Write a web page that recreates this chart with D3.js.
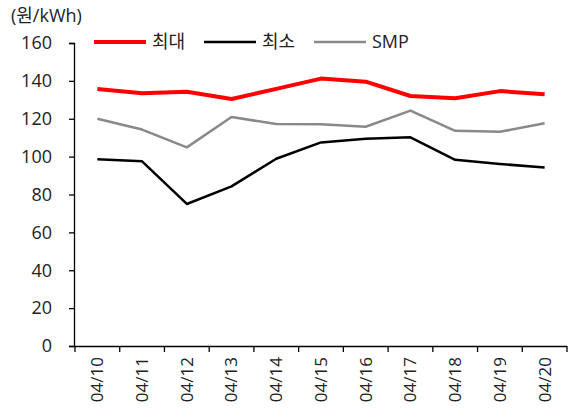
<!DOCTYPE html>
<html>
<head>
<meta charset="utf-8">
<script src="https://cdn.jsdelivr.net/npm/d3@7"></script>
<style>
  body { margin: 0; background: #fff; }
  text { font-family: "Open Sans", "Noto Sans CJK KR", sans-serif; fill: #222; }
</style>
</head>
<body>
<svg id="chart"></svg>
<script>
const dates = ["04/10", "04/11", "04/12", "04/13", "04/14", "04/15", "04/16", "04/17", "04/18", "04/19", "04/20"];
const maxValues = [135.7, 133.5, 134.3, 130.4, 135.8, 141.2, 139.6, 132.0, 130.8, 134.6, 133.0];
const minValues = [98.6, 97.5, 75.0, 84.3, 98.9, 107.5, 109.5, 110.2, 98.3, 96.1, 94.3];
const smpValues = [120.0, 114.3, 104.9, 120.9, 117.2, 117.1, 115.8, 124.3, 113.6, 113.1, 117.6];
const yTicks = [0, 20, 40, 60, 80, 100, 120, 140, 160];

function drawChart() {
  const width = 570, height = 414;
  const left = 74, right = 567, top = 43, bottom = 346;

  const svg = d3.select("#chart")
    .attr("width", width)
    .attr("height", height);

  const x = d3.scaleBand().domain(dates).range([left + 1, right]);
  const y = d3.scaleLinear().domain([0, 160]).range([bottom, top]);

  // y axis
  const yAxis = svg.append("g")
    .attr("transform", `translate(${left},0)`)
    .call(d3.axisLeft(y).tickValues(yTicks).tickSize(5).tickPadding(17));
  yAxis.selectAll("path, line").attr("stroke", "#000").attr("stroke-width", 1.3);
  yAxis.selectAll("text").style("font-size", "18px").attr("fill", "#222").attr("font-family", null);

  // x axis
  const xAxis = svg.append("g")
    .attr("transform", `translate(0,${bottom})`)
    .call(d3.axisBottom(x).tickSize(0).tickSizeOuter(0));
  xAxis.select("path").attr("d", `M${left},0.5H${right}`).attr("stroke", "#000").attr("stroke-width", 1.3);
  xAxis.selectAll(".tick line").remove();
  const bounds = x.domain().map(d => x(d)).concat([x(dates[dates.length - 1]) + x.bandwidth()]);
  xAxis.selectAll(".sep")
    .data(bounds)
    .enter().append("line")
    .attr("class", "sep")
    .attr("x1", d => d).attr("x2", d => d)
    .attr("y1", 0).attr("y2", 6)
    .attr("stroke", "#000").attr("stroke-width", 1.3);
  xAxis.selectAll(".tick text")
    .attr("font-family", null)
    .style("font-size", "17px")
    .attr("fill", "#222")
    .attr("transform", "rotate(-90)")
    .attr("text-anchor", "end")
    .attr("x", -11)
    .attr("y", 0)
    .attr("dy", "0.35em");

  // unit label
  svg.append("text")
    .attr("x", 11).attr("y", 22)
    .style("font-size", "18px")
    .text("(원/kWh)");

  const series = [
    { name: "최대", values: maxValues, color: "#ff0000", w: 4 },
    { name: "최소", values: minValues, color: "#000000", w: 2.5 },
    { name: "SMP", values: smpValues, color: "#898989", w: 2.5 }
  ];

  const line = d3.line()
    .x((d, i) => x(dates[i]) + x.bandwidth() / 2)
    .y(d => y(d));

  // draw back to front
  [series[2], series[1], series[0]].forEach(s => {
    svg.append("path")
      .datum(s.values)
      .attr("fill", "none")
      .attr("stroke", s.color)
      .attr("stroke-width", s.w)
      .attr("stroke-linejoin", "round")
      .attr("d", line);
  });

  // legend
  const legendX = [94, 204, 314];
  series.forEach((s, i) => {
    const g = svg.append("g").attr("transform", `translate(${legendX[i]},42)`);
    g.append("line")
      .attr("x1", 0).attr("x2", 52)
      .attr("y1", 0).attr("y2", 0)
      .attr("stroke", s.color)
      .attr("stroke-width", s.w);
    g.append("text")
      .attr("x", 58).attr("y", 0)
      .attr("dy", "0.35em")
      .style("font-size", "18px")
      .text(s.name);
  });
}

drawChart();
</script>
</body>
</html>
